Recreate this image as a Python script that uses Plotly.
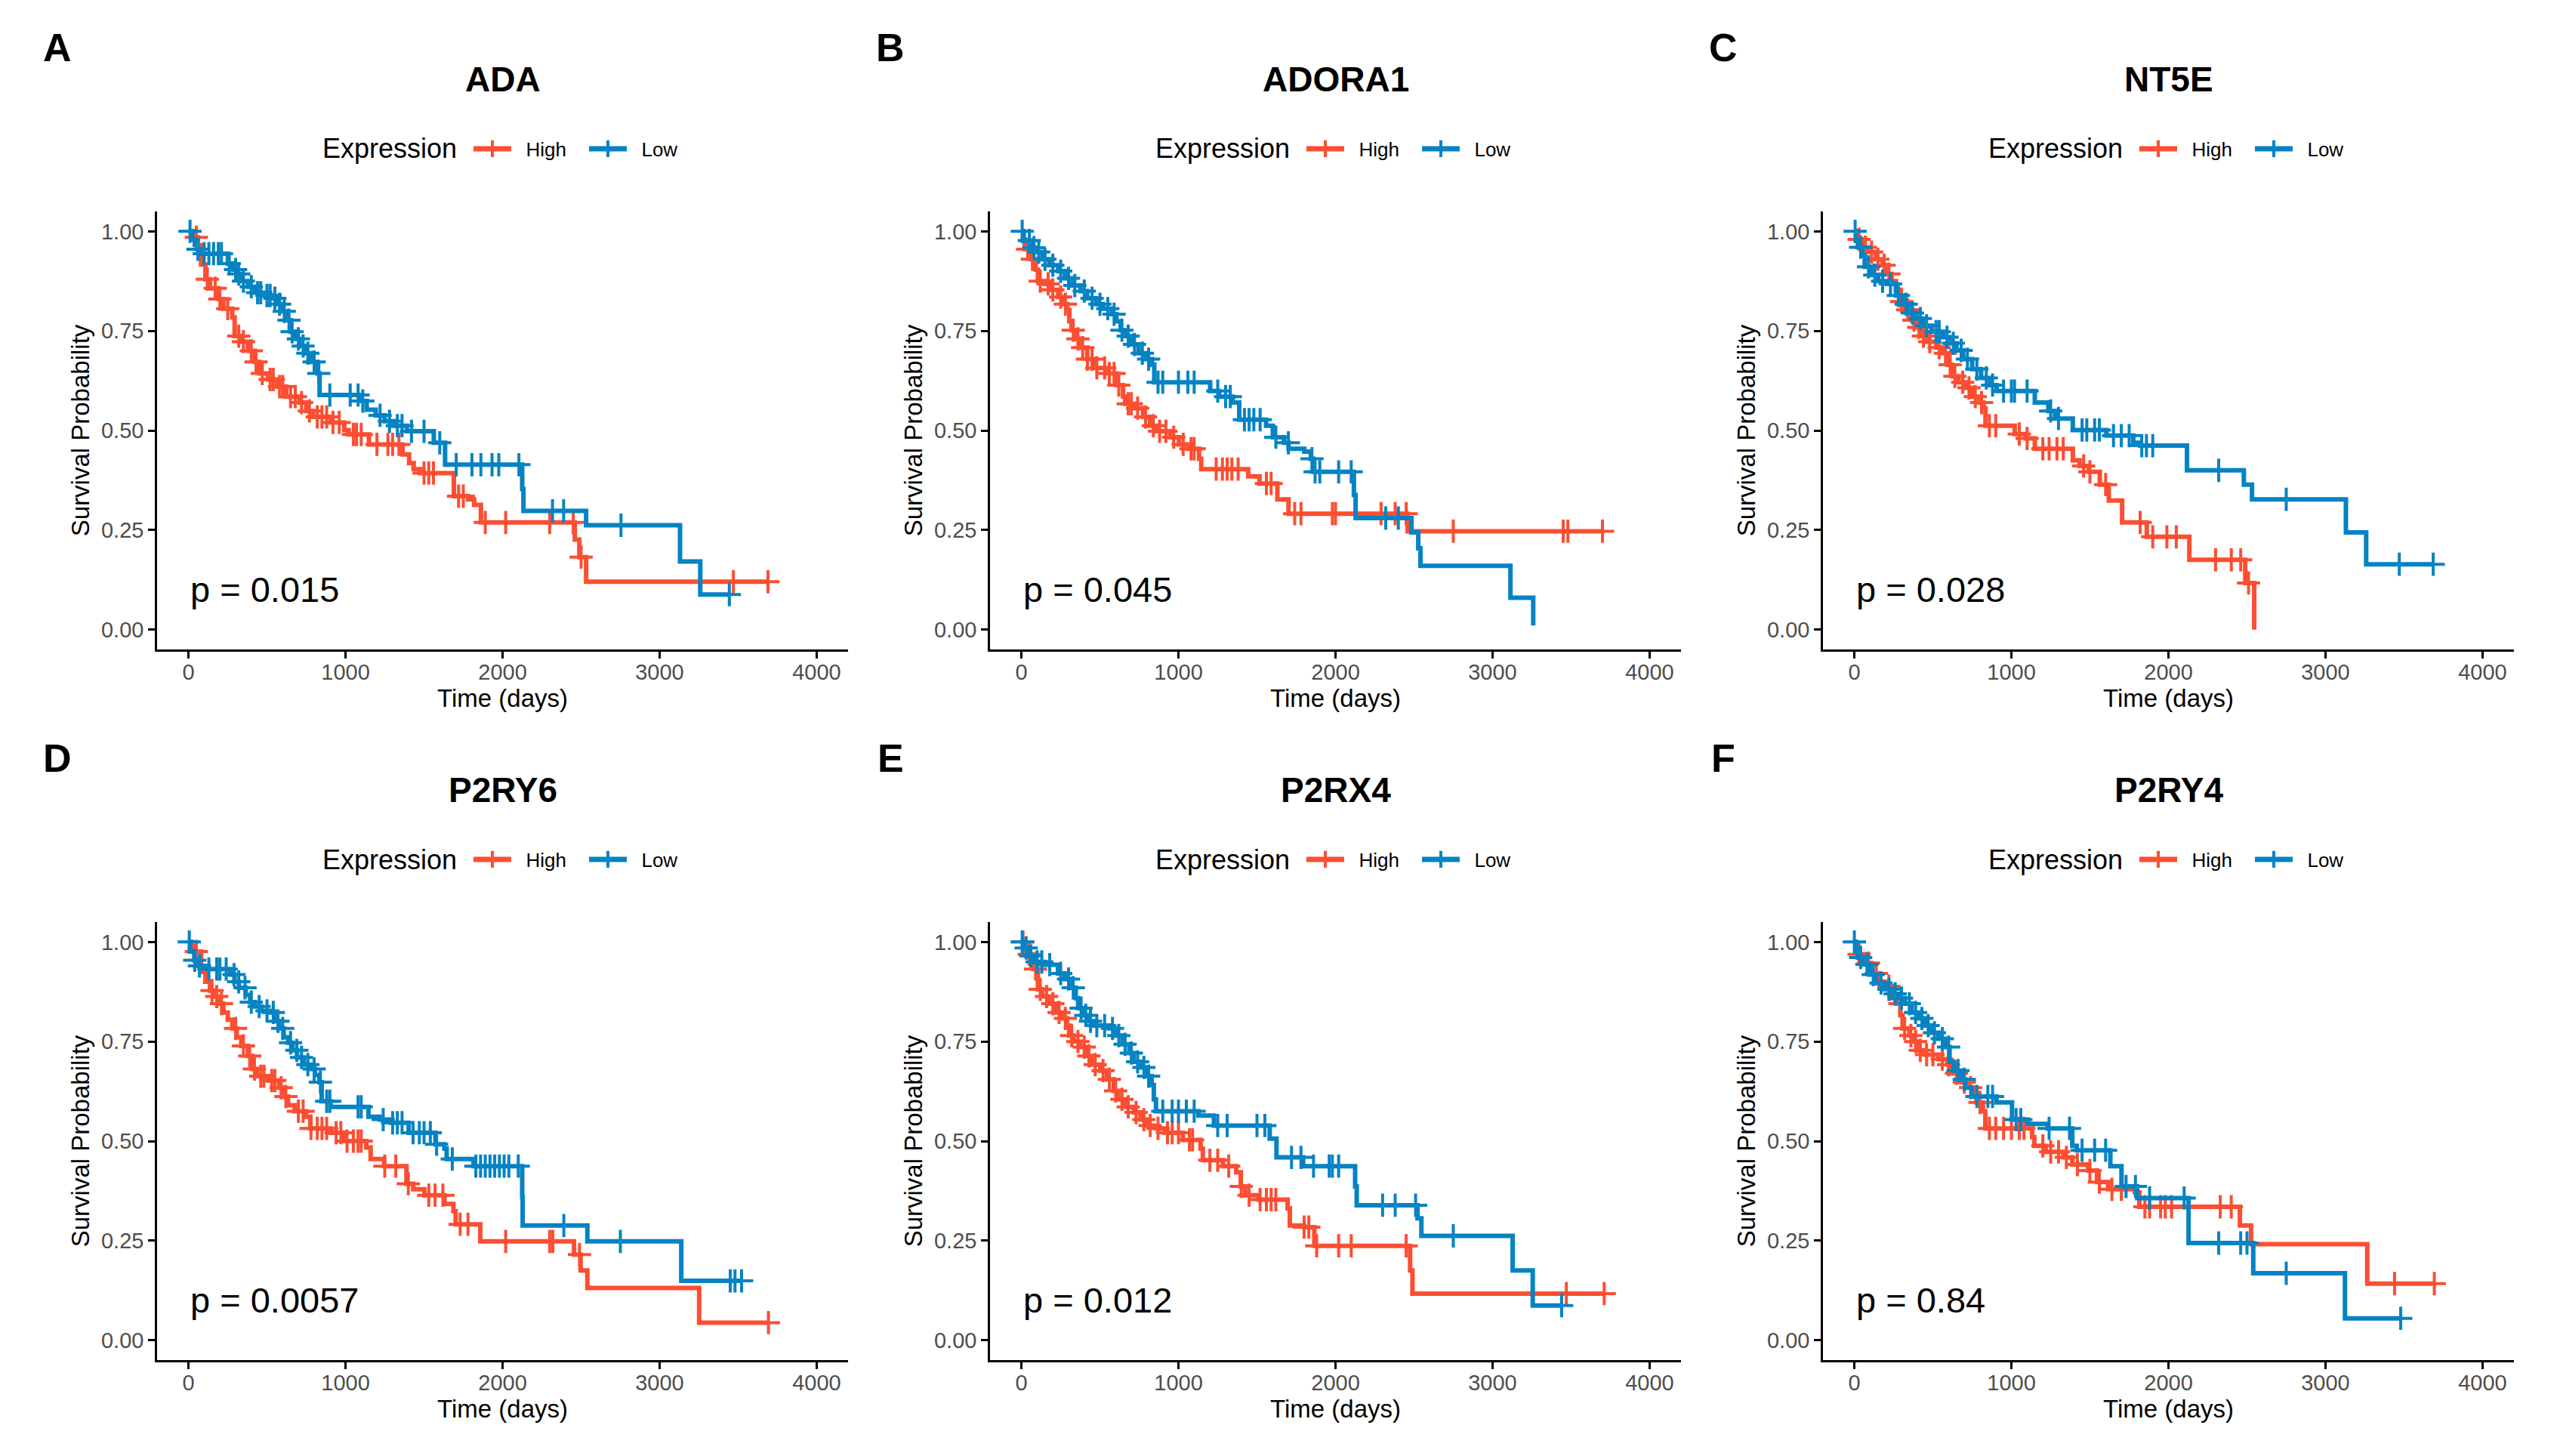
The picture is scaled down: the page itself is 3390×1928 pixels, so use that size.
import plotly.graph_objects as go

# panel labels, genes and log-rank p values
letters = ["A", "B", "C", "D", "E", "F"]
genes = ["ADA", "ADORA1", "NT5E", "P2RY6", "P2RX4", "P2RY4"]
pvals = ["p = 0.015", "p = 0.045", "p = 0.028", "p = 0.0057", "p = 0.012", "p = 0.84"]
groups = ["High", "Low"]
colors = {"High": "#FC4E32", "Low": "#0583C3"}

x_ticks = [0, 1000, 2000, 3000, 4000]
y_ticks = [0, 0.25, 0.5, 0.75, 1.0]
y_ticklabels = ["0.00", "0.25", "0.50", "0.75", "1.00"]

# ---- Kaplan-Meier steps (time in days, survival after the step) and censor times ----
ada_high_t = [30, 60, 80, 108, 137, 194, 222, 279, 294, 336, 379, 422, 450, 507, 565, 622, 707, 750, 793,
              907, 992, 1020, 1149, 1363, 1405, 1434, 1477, 1690, 1780, 1819, 1862, 2460, 2489, 2532]
ada_high_s = [.985, .965, .917, .88, .857, .83, .806, .784, .737, .723, .70, .672, .643, .628, .61, .585, .57,
              .549, .534, .52, .501, .49, .465, .44, .418, .403, .393, .335, .327, .313, .269, .226, .182, .12]
ada_high_c = [50, 120, 170, 200, 250, 320, 350, 400, 430, 470, 520, 540, 580, 600, 650, 680, 720, 770, 820,
              850, 880, 920, 960, 1050, 1070, 1100, 1200, 1270, 1300, 1340, 1500, 1530, 1560, 1720, 1750,
              1890, 2020, 2300, 2450, 2500, 3470, 3690]
ada_low_t = [23, 40, 55, 80, 251, 280, 308, 336, 379, 422, 479, 536, 565, 593, 622, 650, 679, 707, 750, 778,
             821, 835, 1092, 1135, 1192, 1249, 1306, 1391, 1562, 1634, 2125, 2133, 2532, 3130, 3259]
ada_low_s = [.98, .966, .955, .944, .919, .904, .893, .875, .861, .846, .839, .832, .817, .799, .777, .748,
             .73, .712, .694, .672, .643, .589, .574, .552, .538, .523, .512, .498, .469, .414, .353, .298,
             .262, .171, .088]
ada_low_c = [10, 60, 100, 130, 160, 190, 210, 260, 300, 320, 350, 400, 440, 460, 500, 520, 550, 580, 610, 640,
             660, 700, 730, 760, 800, 830, 900, 1030, 1080, 1110, 1220, 1280, 1330, 1360, 1420, 1500, 1600,
             1705, 1805, 1862, 1933, 1976, 2104, 2318, 2389, 2754, 3444]

adora1_high_t = [10, 20, 63, 91, 105, 150, 191, 234, 262, 291, 305, 319, 348, 376, 419, 462, 547, 604, 647,
                 661, 718, 775, 818, 860, 946, 1003, 1060, 1131, 1145, 1444, 1516, 1630, 1701, 2459]
adora1_high_s = [.98, .955, .93, .904, .875, .868, .853, .835, .817, .803, .774, .752, .73, .708, .679, .657,
                 .643, .614, .585, .567, .556, .534, .512, .498, .483, .465, .454, .429, .403, .385, .367,
                 .327, .291, .247]
adora1_high_c = [40, 70, 120, 170, 200, 250, 280, 330, 360, 390, 420, 450, 480, 530, 560, 590, 620, 680, 700,
                 740, 790, 840, 880, 920, 970, 1030, 1080, 1100, 1240, 1280, 1310, 1340, 1380, 1560, 1590,
                 1740, 1780, 1980, 2000, 2290, 2380, 2450, 2750, 3450, 3480, 3700]
adora1_low_t = [15, 63, 91, 134, 177, 234, 276, 319, 376, 419, 476, 519, 576, 604, 632, 661, 704, 746, 789,
                832, 846, 1202, 1259, 1345, 1387, 1558, 1601, 1672, 1701, 1801, 1843, 1858, 2117, 2128, 2484,
                2527, 2541, 3114, 3259]
adora1_low_s = [.977, .959, .948, .93, .915, .90, .882, .864, .85, .832, .817, .806, .792, .774, .752, .737,
                .716, .694, .679, .665, .621, .599, .585, .57, .527, .512, .483, .469, .454, .447, .429, .396,
                .338, .28, .244, .204, .16, .08, .01]
adora1_low_c = [5, 50, 80, 110, 150, 200, 250, 300, 340, 400, 450, 500, 550, 590, 640, 680, 720, 770, 810, 870,
                900, 1000, 1060, 1100, 1250, 1300, 1330, 1420, 1450, 1480, 1520, 1620, 1700, 1850, 1870, 1900,
                2020, 2100, 2320, 2400]

nt5e_high_t = [15, 51, 94, 137, 180, 208, 237, 265, 294, 322, 365, 393, 422, 465, 522, 565, 593, 622, 664, 707,
               750, 793, 821, 835, 1021, 1092, 1149, 1391, 1434, 1491, 1563, 1620, 1705, 1862, 2133, 2489, 2546]
nt5e_high_s = [.98, .96, .948, .93, .915, .893, .875, .853, .824, .803, .777, .759, .737, .723, .708, .694, .665,
               .636, .621, .607, .585, .57, .556, .512, .491, .48, .454, .425, .411, .396, .364, .324, .269,
               .233, .175, .117, 0.0]
nt5e_high_c = [30, 70, 110, 150, 190, 220, 300, 340, 380, 410, 440, 480, 540, 580, 610, 640, 690, 730, 770, 810,
               860, 900, 1050, 1100, 1200, 1240, 1290, 1330, 1460, 1500, 1600, 1820, 1900, 1990, 2050, 2300,
               2400, 2460, 2510]
nt5e_low_t = [10, 23, 51, 66, 108, 151, 208, 265, 308, 351, 393, 436, 493, 565, 607, 650, 693, 750, 807, 864,
              907, 1149, 1235, 1277, 1391, 1605, 1776, 1819, 2118, 2480, 2532, 3130, 3259]
nt5e_low_s = [.977, .96, .94, .911, .89, .875, .868, .839, .817, .795, .781, .763, .748, .734, .719, .701, .679,
              .654, .632, .614, .599, .57, .549, .53, .501, .487, .469, .462, .40, .364, .327, .244, .164]
nt5e_low_c = [5, 40, 90, 130, 180, 230, 280, 330, 370, 420, 460, 520, 540, 590, 630, 680, 720, 780, 840, 880,
              950, 1000, 1020, 1100, 1250, 1300, 1450, 1480, 1530, 1560, 1650, 1700, 1750, 1830, 1860, 1900,
              2320, 2750, 3470, 3686]

p2ry6_high_t = [20, 37, 80, 108, 137, 165, 193, 222, 250, 279, 307, 336, 378, 407, 435, 506, 577, 606, 634, 677,
                748, 776, 905, 990, 1132, 1160, 1246, 1388, 1431, 1502, 1630, 1687, 1701, 1858, 2455, 2497,
                2540, 3252]
p2ry6_high_s = [.99, .976, .925, .90, .878, .863, .845, .823, .805, .783, .761, .739, .714, .681, .663, .652,
                .634, .612, .59, .575, .561, .532, .521, .50, .484, .455, .437, .393, .379, .364, .342, .324,
                .291, .248, .215, .175, .131, .044]
p2ry6_high_c = [50, 150, 180, 210, 300, 350, 390, 420, 460, 480, 530, 550, 590, 620, 700, 730, 780, 820, 850,
                880, 940, 970, 1010, 1050, 1080, 1100, 1250, 1320, 1400, 1530, 1570, 1620, 1730, 1780, 2020,
                2300, 2320, 2490, 3693]
p2ry6_low_t = [10, 37, 65, 120, 265, 293, 321, 364, 393, 421, 464, 521, 549, 577, 606, 634, 663, 691, 734, 777,
               805, 834, 848, 905, 1146, 1217, 1290, 1402, 1573, 1630, 1644, 1815, 2125, 2128, 2540, 3138]
p2ry6_low_s = [.976, .954, .94, .932, .918, .90, .885, .867, .849, .838, .827, .823, .801, .783, .761, .747,
               .728, .71, .692, .681, .666, .648, .60, .586, .561, .554, .546, .521, .492, .481, .455, .437,
               .36, .288, .248, .149]
p2ry6_low_c = [5, 40, 70, 130, 180, 200, 240, 290, 320, 360, 400, 450, 500, 540, 570, 600, 650, 690, 720, 760,
               800, 840, 880, 900, 1080, 1100, 1240, 1300, 1330, 1360, 1430, 1470, 1500, 1540, 1580, 1680, 1830,
               1860, 1890, 1920, 1950, 1980, 2010, 2040, 2100, 2390, 2750, 3450, 3480, 3522]

p2rx4_high_t = [15, 34, 77, 105, 133, 176, 219, 261, 290, 304, 332, 375, 417, 446, 502, 545, 588, 616, 659, 715,
                758, 801, 857, 914, 1028, 1141, 1155, 1283, 1368, 1397, 1425, 1510, 1695, 1709, 1800, 1865,
                2475, 2490]
p2rx4_high_s = [.985, .969, .932, .881, .863, .845, .823, .808, .79, .765, .75, .736, .714, .692, .677, .655,
                .626, .605, .586, .572, .554, .539, .532, .521, .503, .481, .452, .437, .422, .386, .364, .353,
                .331, .288, .284, .237, .175, .117]
p2rx4_high_c = [10, 50, 90, 120, 160, 200, 240, 280, 320, 360, 400, 430, 470, 520, 560, 600, 640, 680, 730, 780,
                820, 870, 930, 960, 1000, 1070, 1090, 1200, 1250, 1320, 1400, 1450, 1520, 1560, 1590, 1620,
                1800, 1830, 1880, 2020, 2100, 2450, 3470, 3711]
p2rx4_low_t = [10, 34, 77, 150, 233, 275, 318, 346, 361, 389, 417, 460, 559, 602, 644, 687, 715, 758, 801, 829,
               843, 857, 1127, 1226, 1581, 1624, 1794, 2125, 2135, 2522, 2547, 3128, 3256]
p2rx4_low_s = [.985, .965, .95, .943, .921, .907, .885, .859, .834, .816, .801, .79, .783, .765, .743, .721,
               .699, .685, .663, .641, .605, .575, .564, .539, .506, .459, .437, .386, .339, .306, .262, .175,
               .087]
p2rx4_low_c = [5, 30, 60, 100, 130, 180, 250, 300, 330, 380, 410, 440, 480, 530, 580, 620, 660, 700, 740, 780,
               810, 900, 960, 1000, 1050, 1100, 1250, 1310, 1500, 1550, 1720, 1780, 1860, 1960, 1980, 2020,
               2300, 2380, 2510, 2750, 3440]

p2ry4_high_t = [10, 23, 65, 108, 151, 193, 236, 264, 293, 307, 350, 378, 407, 449, 535, 592, 620, 677, 720, 777,
                819, 834, 1132, 1146, 1218, 1331, 1388, 1488, 1545, 1616, 1787, 1815, 2455, 2526, 3266]
p2ry4_high_s = [.987, .969, .947, .921, .90, .889, .859, .845, .816, .783, .765, .75, .728, .717, .706, .692,
                .67, .648, .634, .597, .575, .532, .51, .488, .473, .459, .441, .426, .397, .379, .371, .335,
                .288, .241, .142]
p2ry4_high_c = [30, 90, 140, 220, 290, 320, 360, 390, 420, 460, 500, 560, 600, 650, 700, 740, 800, 860, 900,
                950, 1000, 1050, 1080, 1200, 1250, 1300, 1350, 1420, 1500, 1560, 1640, 1700, 1850, 1880, 1950,
                1980, 2020, 2330, 2400, 3440, 3693]
p2ry4_low_t = [10, 23, 51, 94, 137, 193, 236, 279, 321, 364, 407, 449, 492, 535, 578, 606, 634, 677, 706, 748,
               905, 1004, 1104, 1232, 1388, 1416, 1630, 1701, 1801, 2128, 2540, 3124]
p2ry4_low_s = [.985, .961, .944, .918, .897, .881, .87, .859, .845, .823, .808, .79, .772, .757, .736, .699,
               .677, .655, .634, .612, .597, .554, .543, .532, .488, .477, .437, .386, .357, .244, .168, .055]
p2ry4_low_c = [0, 40, 80, 120, 170, 220, 260, 300, 350, 390, 430, 470, 510, 560, 600, 660, 700, 780, 850, 880,
               1030, 1060, 1240, 1370, 1450, 1530, 1600, 1730, 1790, 1880, 2100, 2320, 2460, 2500, 2750, 3479]

curves = [
    {"High": (ada_high_t, ada_high_s, ada_high_c), "Low": (ada_low_t, ada_low_s, ada_low_c)},
    {"High": (adora1_high_t, adora1_high_s, adora1_high_c), "Low": (adora1_low_t, adora1_low_s, adora1_low_c)},
    {"High": (nt5e_high_t, nt5e_high_s, nt5e_high_c), "Low": (nt5e_low_t, nt5e_low_s, nt5e_low_c)},
    {"High": (p2ry6_high_t, p2ry6_high_s, p2ry6_high_c), "Low": (p2ry6_low_t, p2ry6_low_s, p2ry6_low_c)},
    {"High": (p2rx4_high_t, p2rx4_high_s, p2rx4_high_c), "Low": (p2rx4_low_t, p2rx4_low_s, p2rx4_low_c)},
    {"High": (p2ry4_high_t, p2ry4_high_s, p2ry4_high_c), "Low": (p2ry4_low_t, p2ry4_low_s, p2ry4_low_c)},
]


def surv_at(ts, ss, t):
    s = 1.0
    for ti, si in zip(ts, ss):
        if ti <= t:
            s = si
        else:
            break
    return s


W, H = 3390, 1928
FONT = "Liberation Sans"
col_left = [208, 1311, 2414]   # px of left axis line
plot_w = 915
row_top = [280, 1221]          # px of top of panel
plot_h = 580
row_title = [105, 1046]
row_legend = [197, 1138]
row_letter = [63, 1004]

fig = go.Figure()
annotations = []

for i in range(6):
    r, c = divmod(i, 3)
    n = i + 1
    xa = "x" if n == 1 else f"x{n}"
    ya = "y" if n == 1 else f"y{n}"
    leg = "legend" if n == 1 else f"legend{n}"

    for g in groups:
        ts, ss, cens = curves[i][g]
        end = max(ts[-1], cens[-1])
        fig.add_trace(go.Scatter(
            x=[0] + ts + [end], y=[1.0] + ss + [ss[-1]],
            mode="lines", line=dict(color=colors[g], width=6, shape="hv"),
            xaxis=xa, yaxis=ya, showlegend=False, hoverinfo="skip"))
        fig.add_trace(go.Scatter(
            x=cens, y=[surv_at(ts, ss, t) for t in cens],
            mode="markers",
            marker=dict(symbol="cross-thin", size=22, color=colors[g],
                        line=dict(width=4, color=colors[g])),
            xaxis=xa, yaxis=ya, showlegend=False, hoverinfo="skip"))
    # legend entries
    for g in groups:
        fig.add_trace(go.Scatter(
            x=[None], y=[None], name="\u00a0\u00a0" + g, mode="lines+markers",
            line=dict(color=colors[g], width=7),
            marker=dict(symbol="line-ns", size=20, color=colors[g],
                        line=dict(width=4, color=colors[g])),
            xaxis=xa, yaxis=ya, legend=leg, showlegend=True))

    x0 = col_left[c]
    y0 = row_top[r]
    xdom = [x0 / W, (x0 + plot_w) / W]
    ydom = [1 - (y0 + plot_h) / H, 1 - y0 / H]
    cx = (xdom[0] + xdom[1]) / 2

    axis_common = dict(showline=True, linecolor="black", linewidth=2.5, ticks="outside",
                       ticklen=9, tickwidth=2.5, tickcolor="black", showgrid=False, zeroline=False,
                       tickfont=dict(family=FONT, size=29, color="#4D4D4D"))
    fig.layout[f"xaxis{'' if n == 1 else n}"] = dict(
        domain=xdom, anchor=ya, range=[-200, 4200], tickvals=x_ticks, ticklabelstandoff=-7,
        title=dict(text="Time (days)", font=dict(family=FONT, size=33, color="black"), standoff=0),
        **axis_common)
    fig.layout[f"yaxis{'' if n == 1 else n}"] = dict(
        domain=ydom, anchor=xa, range=[-0.05, 1.05], tickvals=y_ticks, ticktext=y_ticklabels,
        title=dict(text="Survival Probability", font=dict(family=FONT, size=33, color="black"), standoff=6),
        **axis_common)

    legend_y = 1 - row_legend[r] / H
    fig.layout[leg] = dict(
        orientation="h", x=(622 + c * 1103) / W, xanchor="left", y=legend_y, yanchor="middle",
        font=dict(family=FONT, size=26, color="black"), bgcolor="rgba(0,0,0,0)",
        itemwidth=50, entrywidth=88, tracegroupgap=0)

    annotations.append(dict(text="Expression", x=(607 + c * 1103) / W, y=legend_y, xref="paper",
                            yref="paper", showarrow=False, xanchor="right", yanchor="middle",
                            font=dict(family=FONT, size=36, color="black")))
    annotations.append(dict(text=f"<b>{genes[i]}</b>", x=cx, y=1 - row_title[r] / H, xref="paper",
                            yref="paper", showarrow=False, xanchor="center", yanchor="middle",
                            font=dict(family=FONT, size=46, color="black")))
    annotations.append(dict(text=f"<b>{letters[i]}</b>", x=(76 + c * 1103) / W, y=1 - row_letter[r] / H,
                            xref="paper", yref="paper", showarrow=False, xanchor="center",
                            yanchor="middle", font=dict(family=FONT, size=52, color="black")))
    annotations.append(dict(text=pvals[i], x=0, y=0.1, xref=xa, yref=ya, showarrow=False,
                            xanchor="left", yanchor="middle",
                            font=dict(family=FONT, size=47, color="black")))

fig.update_layout(width=W, height=H, margin=dict(l=0, r=0, t=0, b=0),
                  paper_bgcolor="white", plot_bgcolor="white", annotations=annotations,
                  font=dict(family=FONT))

fig.write_html("out.html", config={"displayModeBar": False},
               post_script="document.body.style.margin='0';")
